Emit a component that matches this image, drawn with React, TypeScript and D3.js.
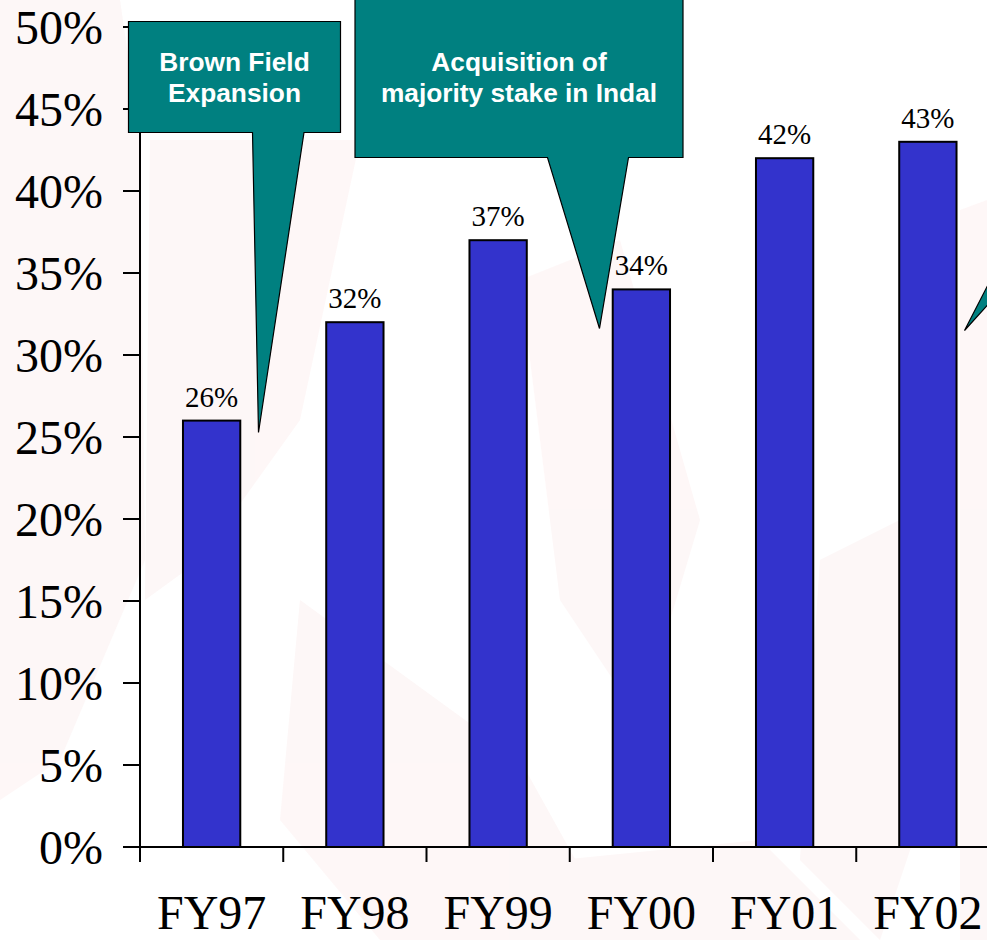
import React from "react";
import * as d3 from "d3";

const categories = ["FY97", "FY98", "FY99", "FY00", "FY01", "FY02"];
const values = [26, 32, 37, 34, 42, 43];
const yTicks = [0, 5, 10, 15, 20, 25, 30, 35, 40, 45, 50];

type Callout = { lines: string[]; box: [number, number, number, number]; pointer: [number, number][] };
const callouts: Callout[] = [
  {
    lines: ["Brown Field", "Expansion"],
    box: [128.5, 21.5, 340.5, 132.5],
    pointer: [[252.5, 132.5], [258.5, 432.5], [304, 132.5]],
  },
  {
    lines: ["Acquisition of", "majority stake in Indal"],
    box: [355, -20, 683, 157.5],
    pointer: [[547.5, 157.5], [599.5, 328.5], [628.5, 157.5]],
  },
];

const W = 987;
const H = 940;

export default function App() {
  const x = d3
    .scaleBand<string>()
    .domain(categories)
    .range([140, 999.5])
    .paddingInner(0.6)
    .paddingOuter(0.3);
  const y = d3.scaleLinear().domain([0, 50]).range([847, 27]);
  const step = x.step();
  const x0 = 140;
  const boundaries = d3.range(categories.length + 1).map((i) => x0 + i * step);

  const serif = "'Liberation Serif', 'Times New Roman', serif";
  const sans = "'Liberation Sans', Arial, sans-serif";
  const teal = "#008080";
  const pink = "#fdf2f2";

  return (
    <svg
      width={W}
      height={H}
      viewBox={`0 0 ${W} ${H}`}
      style={{ position: "absolute", left: 0, top: 0, background: "#ffffff" }}
    >
      {/* faint watermark */}
      <g fill={pink} opacity={0.6}>
        <polygon points="0,0 120,0 140,140 145,560 60,760 0,800" />
        <polygon points="150,140 360,140 300,420 200,560 145,600" />
        <polygon points="300,600 520,760 620,940 380,940 280,820" />
        <polygon points="520,280 620,240 700,520 640,720 560,600" />
        <polygon points="820,560 900,520 940,760 880,940 800,860" />
        <polygon points="560,860 760,840 860,940 540,940" />
        <polygon points="960,210 987,200 987,940 960,940" />
      </g>

      {/* bars */}
      {categories.map((c, i) => (
        <rect
          key={c}
          x={x(c)!}
          y={y(values[i])}
          width={x.bandwidth()}
          height={y(0) - y(values[i])}
          fill="#3333CC"
          stroke="#000"
          strokeWidth={2}
        />
      ))}

      {/* value labels */}
      {categories.map((c, i) => (
        <text
          key={c}
          x={x(c)! + x.bandwidth() / 2}
          y={y(values[i]) - 14}
          textAnchor="middle"
          fontFamily={serif}
          fontSize={29}
          fill="#000"
        >
          {values[i]}%
        </text>
      ))}

      {/* y axis */}
      <line x1={x0} x2={x0} y1={y(50)} y2={y(0)} stroke="#000" strokeWidth={2} />
      {yTicks.map((t) => (
        <g key={t}>
          <line x1={123} x2={x0} y1={y(t)} y2={y(t)} stroke="#000" strokeWidth={2} />
          <text
            x={103}
            y={y(t)}
            dy="0.35em"
            textAnchor="end"
            fontFamily={serif}
            fontSize={48}
            fill="#000"
          >
            {t}%
          </text>
        </g>
      ))}

      {/* x axis */}
      <line x1={123} x2={W + 20} y1={y(0)} y2={y(0)} stroke="#000" strokeWidth={2} />
      {boundaries.map((b, i) => (
        <line key={i} x1={b} x2={b} y1={y(0)} y2={y(0) + 15} stroke="#000" strokeWidth={2} />
      ))}
      {categories.map((c) => (
        <text
          key={c}
          x={x(c)! + x.bandwidth() / 2}
          y={929}
          textAnchor="middle"
          fontFamily={serif}
          fontSize={48}
          fill="#000"
        >
          {c}
        </text>
      ))}

      {/* callouts */}
      {callouts.map((co, k) => {
        const [bx0, by0, bx1, by1] = co.box;
        const p = co.pointer;
        const path = `M${bx0},${by0} L${bx1},${by0} L${bx1},${by1} L${p[2][0]},${p[2][1]} L${p[1][0]},${p[1][1]} L${p[0][0]},${p[0][1]} L${bx0},${by1} Z`;
        const cx = (bx0 + bx1) / 2;
        return (
          <g key={k}>
            <path d={path} fill={teal} stroke="#000" strokeWidth={1.2} />
            {co.lines.map((l, j) => (
              <text
                key={j}
                x={cx}
                y={71 + j * 31.3}
                textAnchor="middle"
                fontFamily={sans}
                fontWeight="bold"
                fontSize={26.3}
                fill="#ffffff"
              >
                {l}
              </text>
            ))}
          </g>
        );
      })}
      {/* third callout pointer, mostly off-canvas */}
      <polygon points="964.5,330.5 1010,242 1010,280" fill={teal} stroke="#000" strokeWidth={1.2} />
    </svg>
  );
}
